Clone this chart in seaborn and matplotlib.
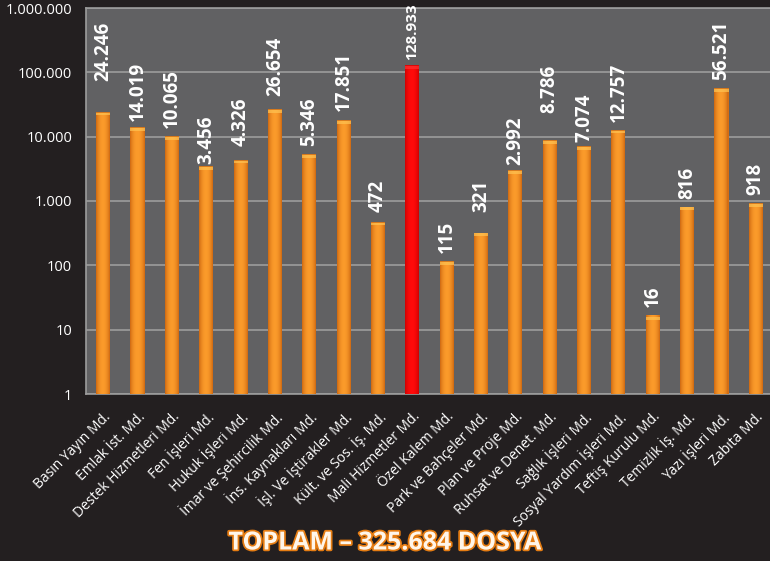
import numpy as np
import matplotlib
matplotlib.use("Agg")
import matplotlib.pyplot as plt
import matplotlib.patheffects as pe
from matplotlib.colors import to_rgb
from matplotlib.ticker import NullLocator
import seaborn as sns

# Directorates and number of files per directorate
departments = [
    "Basın Yayın Md.", "Emlak İst. Md.", "Destek Hizmetleri Md.", "Fen İşleri Md.",
    "Hukuk İşleri Md.", "İmar ve Şehircilik Md.", "İns. Kaynakları Md.",
    "İşl. Ve İştirakler Md.", "Kült. ve Sos. İş. Md.", "Mali Hizmetler Md.",
    "Özel Kalem Md.", "Park ve Bahçeler Md.", "Plan ve Proje Md.",
    "Ruhsat ve Denet. Md.", "Sağlık İşleri Md.", "Sosyal Yardım İşleri Md.",
    "Teftiş Kurulu Md.", "Temizlik İş. Md.", "Yazı İşleri Md.", "Zabıta Md.",
]
files = [24246, 14019, 10065, 3456, 4326, 26654, 5346, 17851, 472, 128933,
         115, 321, 2992, 8786, 7074, 12757, 16, 816, 56521, 918]
highlight = "Mali Hizmetler Md."

y_ticks = [1, 10, 100, 1000, 10000, 100000, 1000000]
y_tick_labels = ["1", "10", "100", "1.000", "10.000", "100.000", "1.000.000"]

# gap between bar top and its value label, in pixels
label_gap_px = [31, 6, 8, 2, 14, 13, 8, 9, 10, 5, 8, 21, 5, 27, 4, 8, 10, 8, 8, 8]


def tr_number(n):
    return f"{n:,}".replace(",", ".")


BG = "#231f20"
PLOT_BG = "#616163"
GRID = "#9c9c9c"
ORANGE = "#f7931e"
RED = "#ff0000"

sns.set_style("dark")
plt.rcParams["font.family"] = ["Open Sans", "DejaVu Sans"]

fig = plt.figure(figsize=(7.70, 5.61), dpi=100, facecolor=BG)
ax = fig.add_axes([86 / 770, 167 / 561, (773 - 86) / 770, 386 / 561])
ax.set_facecolor(PLOT_BG)

palette = {d: (RED if d == highlight else ORANGE) for d in departments}
bar_width = 0.41
sns.barplot(x=departments, y=files, hue=departments, palette=palette,
            legend=False, width=bar_width, log_scale=True, saturation=1,
            edgecolor="none", ax=ax)

ax.set_ylim(1, 1_000_000)
ax.set_xlim(-0.5, len(departments) - 0.5)

# cylinder-like shading: darker edges, bright middle, light cap on top
n_strips = 14
offsets = (np.arange(n_strips) + 0.5) / n_strips - 0.5
shade = np.sin(np.pi * (np.arange(n_strips) + 0.5) / n_strips) ** 0.7
xpos = np.arange(len(departments))
for i, (dep, val) in enumerate(zip(departments, files)):
    if dep == highlight:
        dark, light = np.array(to_rgb("#c80000")), np.array(to_rgb("#ff0a0a"))
        cap = "#ff3030"
    else:
        dark, light = np.array(to_rgb("#c8620e")), np.array(to_rgb("#fa9a2a"))
        cap = "#ffc453"
    for off, s in zip(offsets, shade):
        ax.bar(xpos[i] + off * bar_width, val, width=bar_width / n_strips * 1.05,
               bottom=1, color=dark + (light - dark) * s, linewidth=0, zorder=3)
    ax.bar(xpos[i], val - val / 1.13, bottom=val / 1.13, width=bar_width,
           color=cap, alpha=0.7, linewidth=0, zorder=4)
    ax.bar(xpos[i], val - val / 1.025, bottom=val / 1.025, width=bar_width,
           color=dark, alpha=0.7, linewidth=0, zorder=4)

# value labels
for i, (dep, val) in enumerate(zip(departments, files)):
    size = 11 if dep == highlight else 13.5
    ax.annotate(tr_number(val), xy=(xpos[i], val),
                xytext=(0, label_gap_px[i] * 0.72), textcoords="offset points",
                rotation=90, ha="center", va="bottom", color="white",
                fontsize=size, fontweight="bold", zorder=5, annotation_clip=False)

ax.set_yticks(y_ticks)
ax.set_yticklabels(y_tick_labels)
ax.yaxis.set_minor_locator(NullLocator())
ax.tick_params(axis="y", length=0, pad=10, labelcolor="white", labelsize=10.5)
ax.tick_params(axis="x", length=0, pad=11, labelcolor="white", labelsize=10)
ax.set_xticks(xpos)
ax.set_xticklabels(departments, rotation=45, ha="right", rotation_mode="anchor")

ax.yaxis.grid(True, color=GRID, linewidth=1.2)
ax.xaxis.grid(False)
ax.set_axisbelow(True)
for side in ["left", "bottom", "top"]:
    ax.spines[side].set_visible(True)
    ax.spines[side].set_color(GRID)
    ax.spines[side].set_linewidth(1.2)
ax.spines["right"].set_visible(False)
ax.set_xlabel("")
ax.set_ylabel("")

total_label = f"TOPLAM – {tr_number(sum(files))} DOSYA"
fig.text(385 / 770, 1 - 543 / 561, total_label, ha="center", va="center",
         fontsize=18, fontweight="bold", color="#fff6ea",
         path_effects=[pe.Stroke(linewidth=2.5, foreground="#e57c12"), pe.Normal()])

fig.savefig("out.png", dpi=100, facecolor=BG)
